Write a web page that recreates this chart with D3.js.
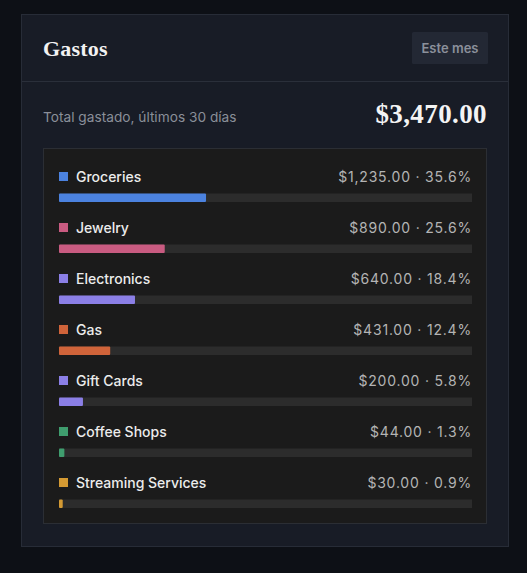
<!DOCTYPE html>
<html>
<head>
<meta charset="utf-8">
<script src="https://cdn.jsdelivr.net/npm/d3@7"></script>
<style>
  html, body { margin: 0; padding: 0; background: #0d1016; }
  svg { display: block; }
</style>
</head>
<body>
<div id="chart"></div>
<script>
const categories = ["Groceries", "Jewelry", "Electronics", "Gas", "Gift Cards", "Coffee Shops", "Streaming Services"];
const amounts = [1235.00, 890.00, 640.00, 431.00, 200.00, 44.00, 30.00];
const percents = [35.6, 25.6, 18.4, 12.4, 5.8, 1.3, 0.9];
const colors = ["#4b82df", "#c95b81", "#8b7fe6", "#d0643a", "#8b7fe6", "#3f9d6e", "#d49a33"];
const total = 3470.00;
const title = "Gastos";
const buttonLabel = "Este mes";
const totalLabel = "Total gastado, últimos 30 días";

const W = 527, H = 573;
const sans = "Inter, 'Noto Sans', sans-serif";
const serif = "'Liberation Serif', 'Times New Roman', serif";
const fmtMoney = v => "$" + d3.format(",.2f")(v);

const svg = d3.select("#chart").append("svg").attr("width", W).attr("height", H);

svg.append("rect").attr("width", W).attr("height", H).attr("fill", "#0d1016");

// card
svg.append("rect").attr("x", 21.5).attr("y", 14.5).attr("width", 487).attr("height", 532)
  .attr("fill", "#181c26").attr("stroke", "#272c37").attr("stroke-width", 1);
svg.append("line").attr("x1", 22).attr("x2", 508).attr("y1", 81.5).attr("y2", 81.5)
  .attr("stroke", "#2a2f3a");

svg.append("text").attr("x", 43).attr("y", 56).text(title)
  .attr("font-family", serif).attr("font-weight", 700).attr("font-size", 22).attr("letter-spacing", 0.2).attr("fill", "#f2f2f2");

// button
svg.append("rect").attr("x", 412).attr("y", 32).attr("width", 76).attr("height", 32).attr("rx", 1.5)
  .attr("fill", "#232834");
svg.append("text").attr("x", 450).attr("y", 52.5).attr("text-anchor", "middle").text(buttonLabel)
  .attr("font-family", sans).attr("font-weight", 600).attr("font-size", 13).attr("fill", "#8b909b");

// total row
svg.append("text").attr("x", 43).attr("y", 122).text(totalLabel)
  .attr("font-family", sans).attr("font-size", 13.7).attr("fill", "#8a8f99");
svg.append("text").attr("x", 487).attr("y", 123).attr("text-anchor", "end").text(fmtMoney(total))
  .attr("font-family", serif).attr("font-weight", 700).attr("font-size", 27).attr("letter-spacing", 0.4).attr("fill", "#f4f4f4");

// inner panel
svg.append("rect").attr("x", 43.5).attr("y", 148.5).attr("width", 443).attr("height", 375)
  .attr("fill", "#1b1b1b").attr("stroke", "#2b2e34");

const x = d3.scaleLinear().domain([0, 100]).range([59, 472]);
const y = d3.scaleBand().domain(categories).range([160, 517]).paddingInner(0);

const rows = svg.append("g").selectAll("g").data(categories).join("g")
  .attr("transform", d => `translate(0,${y(d)})`);

rows.append("rect").attr("x", 59).attr("y", 12).attr("width", 9).attr("height", 9)
  .attr("fill", (d, i) => colors[i]);
rows.append("text").attr("x", 76).attr("y", 21.7).text(d => d)
  .attr("font-family", sans).attr("font-weight", 500).attr("font-size", 14).attr("fill", "#ececec");
rows.append("text").attr("x", 472).attr("y", 21.7).attr("text-anchor", "end")
  .text((d, i) => `${fmtMoney(amounts[i])} · ${percents[i].toFixed(1)}%`)
  .attr("font-family", sans).attr("font-size", 14).attr("letter-spacing", 0.8).attr("fill", "#b4b4b4");
rows.append("rect").attr("x", x(0)).attr("y", 33.5).attr("width", x(100) - x(0)).attr("height", 8.5)
  .attr("fill", "#2c2c2c");
rows.append("rect").attr("x", x(0)).attr("y", 33.5)
  .attr("width", (d, i) => x(percents[i]) - x(0)).attr("height", 8.5).attr("rx", 1)
  .attr("fill", (d, i) => colors[i]);
</script>
</body>
</html>
